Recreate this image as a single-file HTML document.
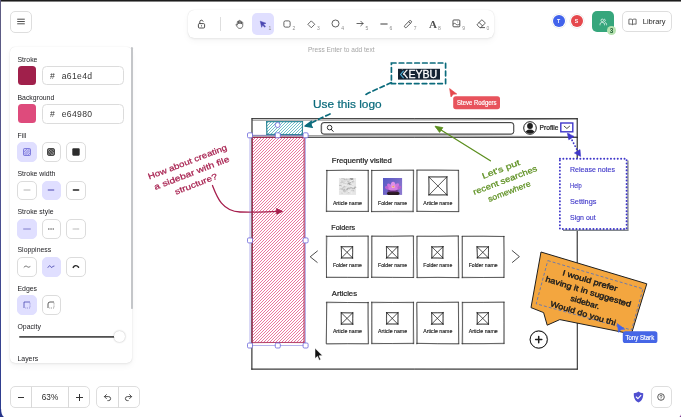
<!DOCTYPE html>
<html lang="en">
<head>
<meta charset="utf-8">
<title>Excalidraw whiteboard</title>
<style>
*{box-sizing:border-box;margin:0;padding:0}
html,body{width:681px;height:417px;overflow:hidden;background:#fff;font-family:"Liberation Sans",sans-serif;color:#1b1b1f}
#app{position:relative;width:681px;height:417px;overflow:hidden;background:#fff}
#cv{position:absolute;left:0;top:0;will-change:transform}
.abs{position:absolute}
.btn{position:absolute;background:#fff;border:0.6px solid #dedede;border-radius:5px;display:flex;align-items:center;justify-content:center}
.island{position:absolute;background:#fff;border-radius:6px;box-shadow:0 0 1px rgba(0,0,0,.17),0 1px 3px rgba(0,0,0,.07),0 3px 7px rgba(0,0,0,.04)}
.lbl{position:absolute;left:17.5px;font-size:6.9px;line-height:8px;color:#1b1b1f;white-space:nowrap}
.sq{position:absolute;width:19.8px;height:19.8px;border-radius:5px;border:0.6px solid #dcdcdc;background:#fff;display:flex;align-items:center;justify-content:center}
.sq.on{background:#e0dfff;border-color:#e0dfff}
.hex{position:absolute;left:41.6px;width:82.2px;height:19.4px;border:0.6px solid #dcdcdc;border-radius:4.5px;background:#fff;font-size:8.6px;line-height:19px;letter-spacing:.35px;color:#333;white-space:nowrap}
.hex b{font-weight:normal;position:absolute;left:7.3px}
.hex span{position:absolute;left:19.1px}
.sw{position:absolute;left:18px;width:18.4px;height:18.6px;border-radius:3.5px}
.tool{position:absolute;top:13.2px;width:21.4px;height:21.4px;border-radius:5px;display:flex;align-items:center;justify-content:center}
.tool.on{background:#e0dfff}
.key{position:absolute;font-size:5px;color:#8c8c8c;top:26.3px;line-height:5px}
svg{display:block;overflow:visible}
</style>
</head>
<body>
<div id="app">
<svg id="cv" width="681" height="417" viewBox="0 0 681 417"><defs>
<pattern id="hRed" width="2.28" height="10" patternUnits="userSpaceOnUse" patternTransform="rotate(40)"><rect width="2.28" height="10" fill="#fff"/><line x1="1.1" y1="0" x2="1.1" y2="10" stroke="#e64980" stroke-width="0.62"/></pattern>
<pattern id="hTeal" width="2.28" height="10" patternUnits="userSpaceOnUse" patternTransform="rotate(40)"><rect width="2.28" height="10" fill="#fff"/><line x1="1.1" y1="0" x2="1.1" y2="10" stroke="#4fb0b8" stroke-width="0.6"/></pattern>
<linearGradient id="flw" x1="0" y1="0" x2="1" y2="0.6"><stop offset="0" stop-color="#5558c6"/><stop offset="0.6" stop-color="#7568c8"/><stop offset="1" stop-color="#8a78cf"/></linearGradient>
</defs>
<path d="M252.09 118.54 Q414.49 118.59 577.22 118.72" stroke="#1e1e1e" stroke-width="0.65" fill="none" stroke-linecap="round" />
<path d="M251.72 118.76 Q414.33 118.8 576.94 118.55" stroke="#1e1e1e" stroke-width="0.65" fill="none" stroke-linecap="round" />
<path d="M576.97 118.63 Q577.15 244.2 577.28 369.47" stroke="#1e1e1e" stroke-width="0.65" fill="none" stroke-linecap="round" />
<path d="M577.49 118.53 Q577.25 243.94 577.42 369.07" stroke="#1e1e1e" stroke-width="0.65" fill="none" stroke-linecap="round" />
<path d="M577.09 369.39 Q414.39 368.97 251.81 369.25" stroke="#1e1e1e" stroke-width="0.65" fill="none" stroke-linecap="round" />
<path d="M577.23 368.94 Q414.68 369.12 251.74 369.02" stroke="#1e1e1e" stroke-width="0.65" fill="none" stroke-linecap="round" />
<path d="M251.89 369.25 Q252.11 243.96 251.97 118.68" stroke="#1e1e1e" stroke-width="0.65" fill="none" stroke-linecap="round" />
<path d="M251.85 369.24 Q252.18 244.12 252.02 119.03" stroke="#1e1e1e" stroke-width="0.65" fill="none" stroke-linecap="round" />
<path d="M252.24 137.11 Q414.71 137.19 577.16 137.43" stroke="#1e1e1e" stroke-width="0.65" fill="none" stroke-linecap="round" />
<path d="M251.77 137.38 Q414.43 137.29 577.33 137.34" stroke="#1e1e1e" stroke-width="0.65" fill="none" stroke-linecap="round" />
<path d="M252 120.4 L470 119.9 L577.2 119.1 M252 135.4 L470 135.9 L577.2 136.9" stroke="#444" stroke-width="0.5" fill="none"/>
<clipPath id="cT"><rect x="266.8" y="121.6" width="35.7" height="12.8"/></clipPath>
<g clip-path="url(#cT)" stroke="#3fa9b5" stroke-width="0.95" stroke-opacity="0.8" fill="none">
<path d="M255.6 134.4L268.4 121.6M258.6 134.4L271.4 121.6M261.6 134.4L274.4 121.6M264.6 134.4L277.4 121.6M267.6 134.4L280.4 121.6M270.6 134.4L283.4 121.6M273.6 134.4L286.4 121.6M276.6 134.4L289.4 121.6M279.6 134.4L292.4 121.6M282.6 134.4L295.4 121.6M285.6 134.4L298.4 121.6M288.6 134.4L301.4 121.6M291.6 134.4L304.4 121.6M294.6 134.4L307.4 121.6M297.6 134.4L310.4 121.6M300.6 134.4L313.4 121.6"/>
</g>
<path d="M266.9 121.65 Q284.84 121.51 302.54 121.58" stroke="#0b7285" stroke-width="0.65" fill="none" stroke-linecap="round" />
<path d="M266.79 121.68 Q284.82 121.82 302.28 121.7" stroke="#0b7285" stroke-width="0.65" fill="none" stroke-linecap="round" />
<path d="M302.66 121.49 Q302.57 128.25 302.44 134.48" stroke="#0b7285" stroke-width="0.65" fill="none" stroke-linecap="round" />
<path d="M302.33 121.41 Q302.26 127.98 302.28 134.53" stroke="#0b7285" stroke-width="0.65" fill="none" stroke-linecap="round" />
<path d="M302.45 134.59 Q284.46 134.27 266.59 134.37" stroke="#0b7285" stroke-width="0.65" fill="none" stroke-linecap="round" />
<path d="M302.66 134.58 Q284.67 134.59 266.69 134.36" stroke="#0b7285" stroke-width="0.65" fill="none" stroke-linecap="round" />
<path d="M267.03 134.23 Q266.73 128.19 266.64 121.47" stroke="#0b7285" stroke-width="0.65" fill="none" stroke-linecap="round" />
<path d="M266.84 134.28 Q266.67 127.99 266.55 121.56" stroke="#0b7285" stroke-width="0.65" fill="none" stroke-linecap="round" />
<clipPath id="cR"><rect x="252.3" y="137.2" width="52" height="205.4"/></clipPath>
<g clip-path="url(#cR)" stroke="#e64980" stroke-width="0.95" stroke-opacity="0.8" fill="none">
<path d="M47.4 342.6L252.8 137.2M50.4 342.6L255.8 137.2M53.4 342.6L258.8 137.2M56.4 342.6L261.8 137.2M59.4 342.6L264.8 137.2M62.4 342.6L267.8 137.2M65.4 342.6L270.8 137.2M68.4 342.6L273.8 137.2M71.4 342.6L276.8 137.2M74.4 342.6L279.8 137.2M77.4 342.6L282.8 137.2M80.4 342.6L285.8 137.2M83.4 342.6L288.8 137.2M86.4 342.6L291.8 137.2M89.4 342.6L294.8 137.2M92.4 342.6L297.8 137.2M95.4 342.6L300.8 137.2M98.4 342.6L303.8 137.2M101.4 342.6L306.8 137.2M104.4 342.6L309.8 137.2M107.4 342.6L312.8 137.2M110.4 342.6L315.8 137.2M113.4 342.6L318.8 137.2M116.4 342.6L321.8 137.2M119.4 342.6L324.8 137.2M122.4 342.6L327.8 137.2M125.4 342.6L330.8 137.2M128.4 342.6L333.8 137.2M131.4 342.6L336.8 137.2M134.4 342.6L339.8 137.2M137.4 342.6L342.8 137.2M140.4 342.6L345.8 137.2M143.4 342.6L348.8 137.2M146.4 342.6L351.8 137.2M149.4 342.6L354.8 137.2M152.4 342.6L357.8 137.2M155.4 342.6L360.8 137.2M158.4 342.6L363.8 137.2M161.4 342.6L366.8 137.2M164.4 342.6L369.8 137.2M167.4 342.6L372.8 137.2M170.4 342.6L375.8 137.2M173.4 342.6L378.8 137.2M176.4 342.6L381.8 137.2M179.4 342.6L384.8 137.2M182.4 342.6L387.8 137.2M185.4 342.6L390.8 137.2M188.4 342.6L393.8 137.2M191.4 342.6L396.8 137.2M194.4 342.6L399.8 137.2M197.4 342.6L402.8 137.2M200.4 342.6L405.8 137.2M203.4 342.6L408.8 137.2M206.4 342.6L411.8 137.2M209.4 342.6L414.8 137.2M212.4 342.6L417.8 137.2M215.4 342.6L420.8 137.2M218.4 342.6L423.8 137.2M221.4 342.6L426.8 137.2M224.4 342.6L429.8 137.2M227.4 342.6L432.8 137.2M230.4 342.6L435.8 137.2M233.4 342.6L438.8 137.2M236.4 342.6L441.8 137.2M239.4 342.6L444.8 137.2M242.4 342.6L447.8 137.2M245.4 342.6L450.8 137.2M248.4 342.6L453.8 137.2M251.4 342.6L456.8 137.2M254.4 342.6L459.8 137.2M257.4 342.6L462.8 137.2M260.4 342.6L465.8 137.2M263.4 342.6L468.8 137.2M266.4 342.6L471.8 137.2M269.4 342.6L474.8 137.2M272.4 342.6L477.8 137.2M275.4 342.6L480.8 137.2M278.4 342.6L483.8 137.2M281.4 342.6L486.8 137.2M284.4 342.6L489.8 137.2M287.4 342.6L492.8 137.2M290.4 342.6L495.8 137.2M293.4 342.6L498.8 137.2M296.4 342.6L501.8 137.2M299.4 342.6L504.8 137.2M302.4 342.6L507.8 137.2"/>
</g>
<path d="M252.5 137.38 Q278.24 137.33 304.31 137.35" stroke="#a61e4d" stroke-width="0.6" fill="none" stroke-linecap="round" />
<path d="M252.48 137.42 Q278.38 137.1 304.46 137.43" stroke="#a61e4d" stroke-width="0.6" fill="none" stroke-linecap="round" />
<path d="M304.13 137.36 Q304.25 239.86 304.11 342.31" stroke="#a61e4d" stroke-width="0.6" fill="none" stroke-linecap="round" />
<path d="M304.23 137.1 Q304.17 239.75 304.08 342.35" stroke="#a61e4d" stroke-width="0.6" fill="none" stroke-linecap="round" />
<path d="M304.09 342.66 Q278.12 342.44 252.35 342.35" stroke="#a61e4d" stroke-width="0.6" fill="none" stroke-linecap="round" />
<path d="M304.24 342.33 Q278.19 342.43 252.45 342.72" stroke="#a61e4d" stroke-width="0.6" fill="none" stroke-linecap="round" />
<path d="M252.12 342.32 Q252.29 239.89 252.23 137.2" stroke="#a61e4d" stroke-width="0.6" fill="none" stroke-linecap="round" />
<path d="M252.09 342.7 Q252.44 239.75 252.31 137.14" stroke="#a61e4d" stroke-width="0.6" fill="none" stroke-linecap="round" />
<rect x="321.2" y="122.5" width="192.6" height="11.7" rx="2.6" fill="none" stroke="#1e1e1e" stroke-width="0.8"/>
<rect x="321.7" y="122.9" width="191.8" height="11" rx="2.4" fill="none" stroke="#333" stroke-width="0.4"/>
<circle cx="329.6" cy="127.6" r="2.3" fill="none" stroke="#1e1e1e" stroke-width="0.9"/><path d="M331.3 129.4 L333.2 131.4" stroke="#1e1e1e" stroke-width="1" stroke-linecap="round"/>
<circle cx="530" cy="128" r="6.3" fill="#fff" stroke="#1e1e1e" stroke-width="1"/>
<clipPath id="avc"><circle cx="530" cy="128" r="5.8"/></clipPath>
<g clip-path="url(#avc)"><circle cx="530" cy="126" r="2.9" fill="#1e1e1e"/><ellipse cx="530" cy="134.6" rx="5.4" ry="5" fill="#1e1e1e"/></g>
<text x="539.6" y="130.2" font-family='"Liberation Sans", "DejaVu Sans", sans-serif' font-size="6.3" fill="#1e1e1e" text-anchor="start" font-weight="normal" textLength="18.8" lengthAdjust="spacingAndGlyphs"  stroke="#1e1e1e" stroke-width="0.22" stroke-linejoin="round">Profile</text>
<rect x="560.8" y="123" width="12" height="8.8" fill="#fff" stroke="#3f37c9" stroke-width="1.4"/>
<path d="M564.2 126.2 L566.9 128.5 L569.6 126.2" fill="none" stroke="#1e1e1e" stroke-width="0.8" stroke-linecap="round" stroke-linejoin="round"/>
<text x="331.8" y="163" font-family='"Liberation Sans", "DejaVu Sans", sans-serif' font-size="7.4" fill="#1e1e1e" text-anchor="start" font-weight="normal" textLength="60" lengthAdjust="spacingAndGlyphs"  stroke="#1e1e1e" stroke-width="0.22" stroke-linejoin="round">Frequently visited</text>
<path d="M326.62 170.58 Q347.43 169.82 368.49 170.36" stroke="#222" stroke-width="0.5" fill="none" stroke-linecap="round" />
<path d="M326.33 170.42 Q347.21 170.09 368.23 170.42" stroke="#222" stroke-width="0.5" fill="none" stroke-linecap="round" />
<path d="M368.45 170.59 Q368.06 190.58 368.48 211.64" stroke="#222" stroke-width="0.5" fill="none" stroke-linecap="round" />
<path d="M367.98 170.21 Q368.45 190.99 368.08 211.02" stroke="#222" stroke-width="0.5" fill="none" stroke-linecap="round" />
<path d="M368.01 211.55 Q347.02 211.22 326.97 211.36" stroke="#222" stroke-width="0.5" fill="none" stroke-linecap="round" />
<path d="M368.56 211.29 Q347.75 211.79 326.38 211.18" stroke="#222" stroke-width="0.5" fill="none" stroke-linecap="round" />
<path d="M326.7 211.72 Q326.36 190.56 326.87 170.18" stroke="#222" stroke-width="0.5" fill="none" stroke-linecap="round" />
<path d="M326.27 211.53 Q326.72 191.04 326.93 170.43" stroke="#222" stroke-width="0.5" fill="none" stroke-linecap="round" />
<text x="347.4" y="204.5" font-family='"Liberation Sans", "DejaVu Sans", sans-serif' font-size="5.2" fill="#1e1e1e" text-anchor="middle" font-weight="normal" textLength="29" lengthAdjust="spacingAndGlyphs"  stroke="#1e1e1e" stroke-width="0.15" stroke-linejoin="round">Article name</text>
<path d="M371.54 170.43 Q392.8 170.18 413.27 170.44" stroke="#222" stroke-width="0.5" fill="none" stroke-linecap="round" />
<path d="M371.72 170.56 Q392.98 170.12 413.58 169.94" stroke="#222" stroke-width="0.5" fill="none" stroke-linecap="round" />
<path d="M413.72 170.45 Q413.1 190.52 413.12 211.66" stroke="#222" stroke-width="0.5" fill="none" stroke-linecap="round" />
<path d="M413.28 170.24 Q413.78 190.93 413.1 211.01" stroke="#222" stroke-width="0.5" fill="none" stroke-linecap="round" />
<path d="M413.42 211.75 Q392.98 211.52 371.75 211.7" stroke="#222" stroke-width="0.5" fill="none" stroke-linecap="round" />
<path d="M413.2 211.23 Q392.86 211.17 371.59 211.47" stroke="#222" stroke-width="0.5" fill="none" stroke-linecap="round" />
<path d="M371.5 211.73 Q371.61 190.74 371.68 170.17" stroke="#222" stroke-width="0.5" fill="none" stroke-linecap="round" />
<path d="M371.74 211.73 Q371.87 191.12 371.8 170.23" stroke="#222" stroke-width="0.5" fill="none" stroke-linecap="round" />
<text x="392.6" y="204.5" font-family='"Liberation Sans", "DejaVu Sans", sans-serif' font-size="5.2" fill="#1e1e1e" text-anchor="middle" font-weight="normal" textLength="29" lengthAdjust="spacingAndGlyphs"  stroke="#1e1e1e" stroke-width="0.15" stroke-linejoin="round">Folder name</text>
<path d="M416.95 169.95 Q437.82 169.81 458.2 170.44" stroke="#222" stroke-width="0.5" fill="none" stroke-linecap="round" />
<path d="M417.18 170.25 Q437.54 170.18 458.46 170.21" stroke="#222" stroke-width="0.5" fill="none" stroke-linecap="round" />
<path d="M458.28 170.25 Q458.64 191.03 458.4 211.22" stroke="#222" stroke-width="0.5" fill="none" stroke-linecap="round" />
<path d="M458.65 170.41 Q458.82 190.81 458.93 211.35" stroke="#222" stroke-width="0.5" fill="none" stroke-linecap="round" />
<path d="M458.61 211.55 Q437.89 211.4 416.96 211.43" stroke="#222" stroke-width="0.5" fill="none" stroke-linecap="round" />
<path d="M458.76 211.7 Q437.78 211.75 417.35 211.21" stroke="#222" stroke-width="0.5" fill="none" stroke-linecap="round" />
<path d="M417.27 211.11 Q417.05 191.15 416.7 170.15" stroke="#222" stroke-width="0.5" fill="none" stroke-linecap="round" />
<path d="M416.66 211.54 Q416.66 190.59 417.23 170.52" stroke="#222" stroke-width="0.5" fill="none" stroke-linecap="round" />
<text x="437.8" y="204.5" font-family='"Liberation Sans", "DejaVu Sans", sans-serif' font-size="5.2" fill="#1e1e1e" text-anchor="middle" font-weight="normal" textLength="29" lengthAdjust="spacingAndGlyphs"  stroke="#1e1e1e" stroke-width="0.15" stroke-linejoin="round">Article name</text>
<clipPath id="cG"><rect x="338.8" y="177.9" width="17.4" height="17"/></clipPath><g clip-path="url(#cG)"><rect x="338.8" y="177.9" width="17.4" height="17" fill="#e6e6e6"/>
<path d="M341.32 189.37 q1 -1.15 2.01 -0.55" stroke="#8a8a8a" stroke-width="0.47" fill="none"/>
<path d="M346.02 189.85 q1.04 -0.82 2.08 -0.22" stroke="#b0b0b0" stroke-width="0.89" fill="none"/>
<path d="M351.49 180.72 q1.69 -0.93 3.39 -0.33" stroke="#f8f8f8" stroke-width="0.61" fill="none"/>
<path d="M344.35 179.64 q0.62 -0.72 1.24 -0.12" stroke="#9a9a9a" stroke-width="0.62" fill="none"/>
<path d="M339.27 183.37 q0.92 -0.15 1.85 0.45" stroke="#d0d0d0" stroke-width="0.46" fill="none"/>
<path d="M352.78 181.77 q0.69 -1.12 1.38 -0.52" stroke="#b0b0b0" stroke-width="0.85" fill="none"/>
<path d="M341.72 189.99 q1.06 -0.22 2.13 0.38" stroke="#a8a8a8" stroke-width="0.81" fill="none"/>
<path d="M342.88 180.53 q1.23 -0.52 2.46 0.08" stroke="#d0d0d0" stroke-width="0.44" fill="none"/>
<path d="M339.86 188.94 q1.58 -1.12 3.17 -0.52" stroke="#f8f8f8" stroke-width="0.41" fill="none"/>
<path d="M340.33 182.26 q1.54 -1.41 3.08 -0.81" stroke="#d0d0d0" stroke-width="0.83" fill="none"/>
<path d="M345.81 183.49 q1.06 -0.22 2.12 0.38" stroke="#d0d0d0" stroke-width="0.71" fill="none"/>
<path d="M339.65 189.27 q1.67 -1.13 3.33 -0.53" stroke="#b0b0b0" stroke-width="0.49" fill="none"/>
<path d="M352.98 188.01 q1.44 -1.09 2.87 -0.49" stroke="#d0d0d0" stroke-width="0.65" fill="none"/>
<path d="M341.67 183.61 q1.69 -1.45 3.39 -0.85" stroke="#b0b0b0" stroke-width="0.41" fill="none"/>
<path d="M346.58 193.46 q1.12 -0.19 2.24 0.41" stroke="#d0d0d0" stroke-width="0.45" fill="none"/>
<path d="M351.28 184.94 q1.2 -0.26 2.4 0.34" stroke="#f8f8f8" stroke-width="0.89" fill="none"/>
<path d="M343.62 181.56 q0.98 -0.33 1.95 0.27" stroke="#c4c4c4" stroke-width="0.75" fill="none"/>
<path d="M348.54 184.51 q1.68 -0.33 3.36 0.27" stroke="#9a9a9a" stroke-width="0.41" fill="none"/>
<path d="M348.38 191.93 q0.78 -1.38 1.56 -0.78" stroke="#f8f8f8" stroke-width="0.82" fill="none"/>
<path d="M352.06 188.66 q1.26 -0.53 2.52 0.07" stroke="#9a9a9a" stroke-width="0.42" fill="none"/>
<path d="M341.78 182.4 q0.89 -0.15 1.78 0.45" stroke="#b0b0b0" stroke-width="0.89" fill="none"/>
<path d="M347.21 182.01 q0.84 -1.24 1.68 -0.64" stroke="#9a9a9a" stroke-width="0.57" fill="none"/>
<path d="M340.26 182.55 q0.82 -0.79 1.64 -0.19" stroke="#8a8a8a" stroke-width="0.4" fill="none"/>
<path d="M342.96 179.6 q1.25 -0.95 2.49 -0.35" stroke="#f8f8f8" stroke-width="0.55" fill="none"/>
<path d="M348.45 179.52 q1.54 -1.28 3.08 -0.68" stroke="#d0d0d0" stroke-width="0.85" fill="none"/>
<path d="M350.76 187.51 q0.96 -0.12 1.92 0.48" stroke="#a8a8a8" stroke-width="0.47" fill="none"/>
<path d="M349.86 188.23 q1.51 -0.5 3.01 0.1" stroke="#b0b0b0" stroke-width="0.66" fill="none"/>
<path d="M345.44 189.14 q0.75 -0.77 1.51 -0.17" stroke="#d0d0d0" stroke-width="0.65" fill="none"/>
<path d="M351.52 190.75 q1.36 -0.38 2.71 0.22" stroke="#a8a8a8" stroke-width="0.76" fill="none"/>
<path d="M353.34 188.23 q0.63 -1.31 1.27 -0.71" stroke="#b0b0b0" stroke-width="0.58" fill="none"/>
<path d="M340.57 191.24 q0.66 -1.47 1.31 -0.87" stroke="#d0d0d0" stroke-width="0.67" fill="none"/>
<path d="M342.67 182.32 q1.48 -0.45 2.95 0.15" stroke="#f8f8f8" stroke-width="0.65" fill="none"/>
<path d="M347.03 188.49 q1.42 -0.84 2.84 -0.24" stroke="#b0b0b0" stroke-width="0.8" fill="none"/>
<path d="M351.69 181.86 q0.83 -0.46 1.65 0.14" stroke="#a8a8a8" stroke-width="0.89" fill="none"/>
<path d="M346.41 184.17 q1.6 -1.1 3.2 -0.5" stroke="#f8f8f8" stroke-width="0.42" fill="none"/>
<path d="M348.49 181.29 q0.76 -1.14 1.52 -0.54" stroke="#d0d0d0" stroke-width="0.77" fill="none"/>
<path d="M343.57 187.06 q1.13 -0.82 2.26 -0.22" stroke="#b0b0b0" stroke-width="0.89" fill="none"/>
<path d="M340.49 181.6 q0.92 -0.78 1.84 -0.18" stroke="#f8f8f8" stroke-width="0.63" fill="none"/>
<path d="M346 180.05 q0.82 -0.13 1.64 0.47" stroke="#d0d0d0" stroke-width="0.87" fill="none"/>
<path d="M339.26 185.36 q1.16 -0.11 2.31 0.49" stroke="#a8a8a8" stroke-width="0.9" fill="none"/>
<path d="M344.8 192.5 q0.68 -1.37 1.36 -0.77" stroke="#c4c4c4" stroke-width="0.77" fill="none"/>
<path d="M342.93 183.81 q1.5 -0.79 3 -0.19" stroke="#d0d0d0" stroke-width="0.84" fill="none"/>
<path d="M349.55 181.81 q1.03 -1.28 2.07 -0.68" stroke="#f8f8f8" stroke-width="0.87" fill="none"/>
<path d="M349.22 184.52 q0.75 -1.02 1.51 -0.42" stroke="#8a8a8a" stroke-width="0.56" fill="none"/>
<path d="M351.6 178.23 q0.97 -0.94 1.94 -0.34" stroke="#a8a8a8" stroke-width="0.87" fill="none"/>
<path d="M341.94 178.38 q0.92 -0.98 1.84 -0.38" stroke="#8a8a8a" stroke-width="0.6" fill="none"/>
<path d="M353.98 187.39 q1.62 -0.44 3.24 0.16" stroke="#9a9a9a" stroke-width="0.83" fill="none"/>
<path d="M343.21 179.01 q0.91 -0.19 1.83 0.41" stroke="#8a8a8a" stroke-width="0.52" fill="none"/>
<path d="M342.99 186.17 q1.45 -0.4 2.9 0.2" stroke="#c4c4c4" stroke-width="0.61" fill="none"/>
<path d="M339.44 190.08 q1.6 -0.18 3.21 0.42" stroke="#f8f8f8" stroke-width="0.67" fill="none"/>
<path d="M349.79 178.97 q1.05 -0.64 2.1 -0.04" stroke="#8a8a8a" stroke-width="0.47" fill="none"/>
<path d="M352.04 185.77 q0.74 -0.84 1.48 -0.24" stroke="#d0d0d0" stroke-width="0.57" fill="none"/>
<path d="M343.47 189.73 q0.89 -0.58 1.77 0.02" stroke="#8a8a8a" stroke-width="0.55" fill="none"/>
<path d="M347.36 184.35 q1.31 -1.39 2.62 -0.79" stroke="#c4c4c4" stroke-width="0.65" fill="none"/>
<path d="M351.18 186.79 q1.6 -0.1 3.19 0.5" stroke="#f8f8f8" stroke-width="0.62" fill="none"/>
<path d="M341.09 181.2 q0.79 -0.72 1.58 -0.12" stroke="#b0b0b0" stroke-width="0.56" fill="none"/>
<path d="M344.52 190.83 q1.58 -0.45 3.15 0.15" stroke="#c4c4c4" stroke-width="0.61" fill="none"/>
<path d="M345.21 186.38 q0.9 -0.45 1.79 0.15" stroke="#f8f8f8" stroke-width="0.65" fill="none"/>
<path d="M347.61 183.82 q1.15 -0.62 2.31 -0.02" stroke="#8a8a8a" stroke-width="0.83" fill="none"/>
<path d="M342.24 182.43 q1.02 -0.6 2.05 0" stroke="#c4c4c4" stroke-width="0.62" fill="none"/>
<path d="M343.68 190.9 q0.74 -0.9 1.48 -0.3" stroke="#b0b0b0" stroke-width="0.78" fill="none"/>
<path d="M351.06 193.31 q0.6 -0.95 1.2 -0.35" stroke="#f8f8f8" stroke-width="0.86" fill="none"/>
<path d="M351.38 191.55 q0.87 -1.35 1.75 -0.75" stroke="#f8f8f8" stroke-width="0.48" fill="none"/>
<path d="M346.84 188.84 q1.39 -0.59 2.79 0.01" stroke="#a8a8a8" stroke-width="0.78" fill="none"/>
<path d="M345.86 186.8 q0.6 -1.32 1.2 -0.72" stroke="#b0b0b0" stroke-width="0.68" fill="none"/>
<path d="M339.56 189.35 q1.29 -0.76 2.58 -0.16" stroke="#c4c4c4" stroke-width="0.62" fill="none"/>
<path d="M350.46 179.75 q1.18 -0.68 2.35 -0.08" stroke="#9a9a9a" stroke-width="0.59" fill="none"/>
<path d="M342.35 187.58 q1.19 -0.11 2.38 0.49" stroke="#b0b0b0" stroke-width="0.54" fill="none"/>
<path d="M343.75 191.29 q1.12 -1.17 2.25 -0.57" stroke="#c4c4c4" stroke-width="0.52" fill="none"/>
<path d="M353.41 189.19 q0.66 -1.23 1.32 -0.63" stroke="#9a9a9a" stroke-width="0.84" fill="none"/>
<path d="M348.71 179.47 q1.33 -0.2 2.67 0.4" stroke="#c4c4c4" stroke-width="0.51" fill="none"/>
<path d="M339.51 183.47 q1 -0.95 2 -0.35" stroke="#f8f8f8" stroke-width="0.4" fill="none"/>
<path d="M343.38 191.38 q0.83 -0.14 1.65 0.46" stroke="#b0b0b0" stroke-width="0.56" fill="none"/>
<path d="M351.3 181.8 q0.89 -0.25 1.78 0.35" stroke="#c4c4c4" stroke-width="0.45" fill="none"/>
<path d="M348.35 187.72 q1.13 -0.23 2.27 0.37" stroke="#c4c4c4" stroke-width="0.43" fill="none"/>
<path d="M347.92 192.58 q0.83 -0.14 1.67 0.46" stroke="#b0b0b0" stroke-width="0.47" fill="none"/>
<path d="M339.78 179.14 q1.09 -0.5 2.19 0.1" stroke="#f8f8f8" stroke-width="0.56" fill="none"/>
<path d="M340.7 179.44 q0.96 -1.24 1.92 -0.64" stroke="#c4c4c4" stroke-width="0.87" fill="none"/>
<path d="M350.19 178.7 q1.4 -0.33 2.8 0.27" stroke="#8a8a8a" stroke-width="0.89" fill="none"/>
<path d="M345.64 179.9 q0.91 -1.01 1.82 -0.41" stroke="#b0b0b0" stroke-width="0.88" fill="none"/>
<path d="M340.86 193.24 q1.02 -0.42 2.04 0.18" stroke="#c4c4c4" stroke-width="0.55" fill="none"/>
<path d="M351.06 179.57 q1.12 -0.98 2.24 -0.38" stroke="#8a8a8a" stroke-width="0.86" fill="none"/>
<path d="M341.9 183.88 q0.63 -0.92 1.27 -0.32" stroke="#f8f8f8" stroke-width="0.81" fill="none"/>
<path d="M350.5 178.83 q1.11 -0.38 2.22 0.22" stroke="#b0b0b0" stroke-width="0.43" fill="none"/>
<path d="M341.92 179.18 q0.97 -1.12 1.95 -0.52" stroke="#d0d0d0" stroke-width="0.88" fill="none"/>
<path d="M348.25 182.29 q1.36 -0.21 2.72 0.39" stroke="#8a8a8a" stroke-width="0.55" fill="none"/>
<path d="M349.82 187.49 q1.3 -0.18 2.59 0.42" stroke="#a8a8a8" stroke-width="0.41" fill="none"/>
<path d="M342.51 185.61 q1.65 -0.96 3.3 -0.36" stroke="#f8f8f8" stroke-width="0.53" fill="none"/>
<path d="M345.45 185.9 q0.8 -0.38 1.6 0.22" stroke="#f8f8f8" stroke-width="0.77" fill="none"/>
<path d="M351.34 190.26 q0.86 -0.29 1.72 0.31" stroke="#d0d0d0" stroke-width="0.63" fill="none"/>
</g>
<clipPath id="cF"><rect x="383" y="177.9" width="19.3" height="17"/></clipPath>
<g clip-path="url(#cF)"><rect x="383" y="177.9" width="19.3" height="17" fill="url(#flw)"/>
<ellipse cx="393.2" cy="193.4" rx="6.4" ry="2.5" fill="#2a1a22"/>
<ellipse cx="393" cy="191" rx="5.8" ry="1.3" fill="#6a2f7a" opacity="0.8"/><g transform="translate(0 0.9)">
<ellipse cx="388.6" cy="187.2" rx="3.8" ry="1.7" transform="rotate(18 388.6 187.2)" fill="#b95fd0"/>
<ellipse cx="397.6" cy="187" rx="3.8" ry="1.7" transform="rotate(-18 397.6 187)" fill="#b95fd0"/>
<ellipse cx="390" cy="185.6" rx="3.6" ry="1.9" transform="rotate(48 390 185.6)" fill="#cf74dc"/>
<ellipse cx="396.2" cy="185.4" rx="3.6" ry="1.9" transform="rotate(-48 396.2 185.4)" fill="#cf74dc"/>
<ellipse cx="393.1" cy="184.6" rx="2.3" ry="3.7" transform="rotate(0 393.1 184.6)" fill="#e08fe6"/>
<ellipse cx="393.1" cy="187.6" rx="4.6" ry="2.1" transform="rotate(0 393.1 187.6)" fill="#d57fe0"/>
<ellipse cx="393.2" cy="186" rx="1.7" ry="1.2" fill="#f3b2c8"/><ellipse cx="393.3" cy="185.6" rx="1" ry="0.7" fill="#f2a35a"/></g></g>
<path d="M429.01 176.95 Q438.14 177.05 446.83 176.95" stroke="#1e1e1e" stroke-width="0.55" fill="none" stroke-linecap="round" />
<path d="M429.02 176.83 Q438.07 176.99 446.96 176.8" stroke="#1e1e1e" stroke-width="0.55" fill="none" stroke-linecap="round" />
<path d="M446.85 176.96 Q446.79 186.06 447.24 195.24" stroke="#1e1e1e" stroke-width="0.55" fill="none" stroke-linecap="round" />
<path d="M446.98 177.2 Q446.84 185.82 446.87 195.02" stroke="#1e1e1e" stroke-width="0.55" fill="none" stroke-linecap="round" />
<path d="M447.14 194.9 Q438.14 195.13 428.89 194.88" stroke="#1e1e1e" stroke-width="0.55" fill="none" stroke-linecap="round" />
<path d="M446.97 194.84 Q437.88 194.88 428.87 194.89" stroke="#1e1e1e" stroke-width="0.55" fill="none" stroke-linecap="round" />
<path d="M428.78 194.88 Q429.2 185.84 428.87 177.01" stroke="#1e1e1e" stroke-width="0.55" fill="none" stroke-linecap="round" />
<path d="M428.98 194.77 Q429.07 185.8 428.75 177.19" stroke="#1e1e1e" stroke-width="0.55" fill="none" stroke-linecap="round" /><path d="M428.95 177.15 Q437.89 185.98 446.89 194.82" stroke="#1e1e1e" stroke-width="0.45" fill="none" stroke-linecap="round" />
<path d="M428.88 176.83 Q438.04 186.13 447.01 194.87" stroke="#1e1e1e" stroke-width="0.45" fill="none" stroke-linecap="round" /><path d="M447.07 176.8 Q438.04 186.11 429.05 195.08" stroke="#1e1e1e" stroke-width="0.45" fill="none" stroke-linecap="round" />
<path d="M446.94 176.82 Q437.94 185.81 429.2 194.82" stroke="#1e1e1e" stroke-width="0.45" fill="none" stroke-linecap="round" />
<text x="331.3" y="229.6" font-family='"Liberation Sans", "DejaVu Sans", sans-serif' font-size="7.4" fill="#1e1e1e" text-anchor="start" font-weight="normal" textLength="23.8" lengthAdjust="spacingAndGlyphs"  stroke="#1e1e1e" stroke-width="0.22" stroke-linejoin="round">Folders</text>
<path d="M326.85 236.46 Q347.59 236.53 368.13 236.1" stroke="#222" stroke-width="0.5" fill="none" stroke-linecap="round" />
<path d="M326.23 236.2 Q347.5 235.86 368.19 236.13" stroke="#222" stroke-width="0.5" fill="none" stroke-linecap="round" />
<path d="M367.92 236.23 Q368.44 256.93 368.32 277.32" stroke="#222" stroke-width="0.5" fill="none" stroke-linecap="round" />
<path d="M368.33 236.13 Q368.02 257.19 367.84 277.6" stroke="#222" stroke-width="0.5" fill="none" stroke-linecap="round" />
<path d="M367.81 277.61 Q347.71 277.33 326.84 277.52" stroke="#222" stroke-width="0.5" fill="none" stroke-linecap="round" />
<path d="M368.55 277.35 Q347.31 277.32 326.33 277.09" stroke="#222" stroke-width="0.5" fill="none" stroke-linecap="round" />
<path d="M326.49 277.62 Q326.27 256.86 326.3 235.84" stroke="#222" stroke-width="0.5" fill="none" stroke-linecap="round" />
<path d="M326.52 277.46 Q326.31 257.05 326.94 236.39" stroke="#222" stroke-width="0.5" fill="none" stroke-linecap="round" />
<text x="347.4" y="266.8" font-family='"Liberation Sans", "DejaVu Sans", sans-serif' font-size="5.2" fill="#1e1e1e" text-anchor="middle" font-weight="normal" textLength="29" lengthAdjust="spacingAndGlyphs"  stroke="#1e1e1e" stroke-width="0.15" stroke-linejoin="round">Folder name</text>
<path d="M341.23 246.64 Q346.84 246.72 352.38 246.74" stroke="#1e1e1e" stroke-width="0.55" fill="none" stroke-linecap="round" />
<path d="M341.55 246.7 Q347.13 246.95 352.77 246.57" stroke="#1e1e1e" stroke-width="0.55" fill="none" stroke-linecap="round" />
<path d="M352.65 246.87 Q352.81 252.31 352.39 258.11" stroke="#1e1e1e" stroke-width="0.55" fill="none" stroke-linecap="round" />
<path d="M352.67 246.98 Q352.69 252.6 352.66 258.06" stroke="#1e1e1e" stroke-width="0.55" fill="none" stroke-linecap="round" />
<path d="M352.63 257.77 Q346.85 257.99 341.62 257.83" stroke="#1e1e1e" stroke-width="0.55" fill="none" stroke-linecap="round" />
<path d="M352.84 258.16 Q346.93 257.82 341.25 258.19" stroke="#1e1e1e" stroke-width="0.55" fill="none" stroke-linecap="round" />
<path d="M341.48 257.91 Q341.57 252.49 341.34 246.78" stroke="#1e1e1e" stroke-width="0.55" fill="none" stroke-linecap="round" />
<path d="M341.47 257.9 Q341.57 252.54 341.27 246.74" stroke="#1e1e1e" stroke-width="0.55" fill="none" stroke-linecap="round" /><path d="M341.27 246.6 Q346.95 252.4 352.79 257.99" stroke="#1e1e1e" stroke-width="0.45" fill="none" stroke-linecap="round" />
<path d="M341.53 246.93 Q346.98 252.45 352.72 257.96" stroke="#1e1e1e" stroke-width="0.45" fill="none" stroke-linecap="round" /><path d="M352.55 246.92 Q346.83 252.34 341.4 258.06" stroke="#1e1e1e" stroke-width="0.45" fill="none" stroke-linecap="round" />
<path d="M352.77 246.73 Q346.82 252.25 341.49 257.83" stroke="#1e1e1e" stroke-width="0.45" fill="none" stroke-linecap="round" />
<path d="M371.92 236.43 Q392.8 236.52 413.02 235.85" stroke="#222" stroke-width="0.5" fill="none" stroke-linecap="round" />
<path d="M371.49 235.91 Q392.69 236.35 413.71 236.03" stroke="#222" stroke-width="0.5" fill="none" stroke-linecap="round" />
<path d="M413.55 236.38 Q413.65 257.04 413.18 277.67" stroke="#222" stroke-width="0.5" fill="none" stroke-linecap="round" />
<path d="M413.26 236.29 Q413.49 256.6 413.72 277.37" stroke="#222" stroke-width="0.5" fill="none" stroke-linecap="round" />
<path d="M413.38 277.47 Q392.4 277.77 371.89 277.19" stroke="#222" stroke-width="0.5" fill="none" stroke-linecap="round" />
<path d="M413.32 277.51 Q392.5 277.16 371.62 277.26" stroke="#222" stroke-width="0.5" fill="none" stroke-linecap="round" />
<path d="M371.61 277.61 Q371.7 257.03 371.44 236.49" stroke="#222" stroke-width="0.5" fill="none" stroke-linecap="round" />
<path d="M371.82 277.55 Q372.17 256.76 372.12 236" stroke="#222" stroke-width="0.5" fill="none" stroke-linecap="round" />
<text x="392.6" y="266.8" font-family='"Liberation Sans", "DejaVu Sans", sans-serif' font-size="5.2" fill="#1e1e1e" text-anchor="middle" font-weight="normal" textLength="29" lengthAdjust="spacingAndGlyphs"  stroke="#1e1e1e" stroke-width="0.15" stroke-linejoin="round">Folder name</text>
<path d="M386.72 246.74 Q392.22 246.98 397.74 246.73" stroke="#1e1e1e" stroke-width="0.55" fill="none" stroke-linecap="round" />
<path d="M386.39 246.67 Q392.02 246.72 397.86 247.03" stroke="#1e1e1e" stroke-width="0.55" fill="none" stroke-linecap="round" />
<path d="M397.71 247.03 Q397.7 252.41 397.99 258.21" stroke="#1e1e1e" stroke-width="0.55" fill="none" stroke-linecap="round" />
<path d="M397.92 246.66 Q398 252.52 397.7 258.06" stroke="#1e1e1e" stroke-width="0.55" fill="none" stroke-linecap="round" />
<path d="M397.57 257.99 Q392.16 257.93 386.66 257.77" stroke="#1e1e1e" stroke-width="0.55" fill="none" stroke-linecap="round" />
<path d="M397.7 258.01 Q391.98 258.03 386.62 257.96" stroke="#1e1e1e" stroke-width="0.55" fill="none" stroke-linecap="round" />
<path d="M386.53 258.16 Q386.5 252.22 386.43 246.56" stroke="#1e1e1e" stroke-width="0.55" fill="none" stroke-linecap="round" />
<path d="M386.58 257.78 Q386.75 252.5 386.42 246.88" stroke="#1e1e1e" stroke-width="0.55" fill="none" stroke-linecap="round" /><path d="M386.79 246.62 Q392.11 252.52 397.93 258.16" stroke="#1e1e1e" stroke-width="0.45" fill="none" stroke-linecap="round" />
<path d="M386.64 246.81 Q392.24 252.43 397.8 257.87" stroke="#1e1e1e" stroke-width="0.45" fill="none" stroke-linecap="round" /><path d="M397.61 246.67 Q392 252.22 386.46 258.16" stroke="#1e1e1e" stroke-width="0.45" fill="none" stroke-linecap="round" />
<path d="M397.86 246.68 Q392.04 252.45 386.57 258.01" stroke="#1e1e1e" stroke-width="0.45" fill="none" stroke-linecap="round" />
<path d="M416.93 236.29 Q437.91 236.32 458.61 235.85" stroke="#222" stroke-width="0.5" fill="none" stroke-linecap="round" />
<path d="M417.18 236.18 Q437.9 236.6 458.63 236.1" stroke="#222" stroke-width="0.5" fill="none" stroke-linecap="round" />
<path d="M458.26 236.32 Q458.55 257.13 458.34 277.8" stroke="#222" stroke-width="0.5" fill="none" stroke-linecap="round" />
<path d="M458.3 236.51 Q458.41 256.92 458.94 277.75" stroke="#222" stroke-width="0.5" fill="none" stroke-linecap="round" />
<path d="M458.71 277.54 Q437.61 277.04 417.15 277.73" stroke="#222" stroke-width="0.5" fill="none" stroke-linecap="round" />
<path d="M458.94 277.72 Q438.18 277.24 416.67 277.41" stroke="#222" stroke-width="0.5" fill="none" stroke-linecap="round" />
<path d="M417.27 277.16 Q416.74 257.12 416.73 236.53" stroke="#222" stroke-width="0.5" fill="none" stroke-linecap="round" />
<path d="M417.08 277.3 Q416.75 256.71 417.28 236.54" stroke="#222" stroke-width="0.5" fill="none" stroke-linecap="round" />
<text x="437.8" y="266.8" font-family='"Liberation Sans", "DejaVu Sans", sans-serif' font-size="5.2" fill="#1e1e1e" text-anchor="middle" font-weight="normal" textLength="29" lengthAdjust="spacingAndGlyphs"  stroke="#1e1e1e" stroke-width="0.15" stroke-linejoin="round">Folder name</text>
<path d="M431.82 246.79 Q437.64 246.97 443.02 246.55" stroke="#1e1e1e" stroke-width="0.55" fill="none" stroke-linecap="round" />
<path d="M431.67 246.99 Q437.16 247.03 443.14 246.75" stroke="#1e1e1e" stroke-width="0.55" fill="none" stroke-linecap="round" />
<path d="M442.84 246.57 Q443.04 252.43 442.81 258.06" stroke="#1e1e1e" stroke-width="0.55" fill="none" stroke-linecap="round" />
<path d="M443.1 246.57 Q442.83 252.64 442.82 258.07" stroke="#1e1e1e" stroke-width="0.55" fill="none" stroke-linecap="round" />
<path d="M442.77 258.18 Q437.17 257.78 431.93 257.85" stroke="#1e1e1e" stroke-width="0.55" fill="none" stroke-linecap="round" />
<path d="M443.08 258.19 Q437.63 258.02 431.93 258.11" stroke="#1e1e1e" stroke-width="0.55" fill="none" stroke-linecap="round" />
<path d="M431.65 257.77 Q431.74 252.27 432.02 247.01" stroke="#1e1e1e" stroke-width="0.55" fill="none" stroke-linecap="round" />
<path d="M431.93 258.07 Q431.93 252.19 431.79 246.62" stroke="#1e1e1e" stroke-width="0.55" fill="none" stroke-linecap="round" /><path d="M431.72 246.73 Q437.52 252.46 442.9 257.94" stroke="#1e1e1e" stroke-width="0.45" fill="none" stroke-linecap="round" />
<path d="M431.9 246.96 Q437.57 252.22 443.11 258.04" stroke="#1e1e1e" stroke-width="0.45" fill="none" stroke-linecap="round" /><path d="M443.1 246.92 Q437.39 252.32 431.61 258.01" stroke="#1e1e1e" stroke-width="0.45" fill="none" stroke-linecap="round" />
<path d="M442.82 246.83 Q437.24 252.39 431.89 258.13" stroke="#1e1e1e" stroke-width="0.45" fill="none" stroke-linecap="round" />
<path d="M462.35 236.22 Q483.26 236.03 503.83 236.4" stroke="#222" stroke-width="0.5" fill="none" stroke-linecap="round" />
<path d="M462.08 236.36 Q482.84 236.08 504.26 236.57" stroke="#222" stroke-width="0.5" fill="none" stroke-linecap="round" />
<path d="M504.01 236.26 Q504.07 257.17 503.73 277.65" stroke="#222" stroke-width="0.5" fill="none" stroke-linecap="round" />
<path d="M503.73 236.55 Q504.35 256.59 504.21 277.39" stroke="#222" stroke-width="0.5" fill="none" stroke-linecap="round" />
<path d="M503.68 277.26 Q483.59 277.45 462.08 277.74" stroke="#222" stroke-width="0.5" fill="none" stroke-linecap="round" />
<path d="M503.94 277.52 Q483.51 277.6 462.3 277.24" stroke="#222" stroke-width="0.5" fill="none" stroke-linecap="round" />
<path d="M462.14 277.79 Q462.34 256.84 462.5 236.56" stroke="#222" stroke-width="0.5" fill="none" stroke-linecap="round" />
<path d="M462.55 277.48 Q462.1 256.88 462.03 236.27" stroke="#222" stroke-width="0.5" fill="none" stroke-linecap="round" />
<text x="483.2" y="266.8" font-family='"Liberation Sans", "DejaVu Sans", sans-serif' font-size="5.2" fill="#1e1e1e" text-anchor="middle" font-weight="normal" textLength="29" lengthAdjust="spacingAndGlyphs"  stroke="#1e1e1e" stroke-width="0.15" stroke-linejoin="round">Folder name</text>
<path d="M477.18 246.83 Q482.81 246.98 488.31 246.78" stroke="#1e1e1e" stroke-width="0.55" fill="none" stroke-linecap="round" />
<path d="M477.07 246.72 Q482.89 246.68 488.47 246.9" stroke="#1e1e1e" stroke-width="0.55" fill="none" stroke-linecap="round" />
<path d="M488.53 246.96 Q488.4 252.28 488.46 258.11" stroke="#1e1e1e" stroke-width="0.55" fill="none" stroke-linecap="round" />
<path d="M488.45 246.72 Q488.64 252.51 488.27 258.23" stroke="#1e1e1e" stroke-width="0.55" fill="none" stroke-linecap="round" />
<path d="M488.65 257.83 Q482.68 258.23 477.28 257.85" stroke="#1e1e1e" stroke-width="0.55" fill="none" stroke-linecap="round" />
<path d="M488.3 257.9 Q482.63 257.82 477.09 257.8" stroke="#1e1e1e" stroke-width="0.55" fill="none" stroke-linecap="round" />
<path d="M477.39 257.98 Q477.41 252.29 476.96 246.98" stroke="#1e1e1e" stroke-width="0.55" fill="none" stroke-linecap="round" />
<path d="M477.44 257.9 Q477.17 252.26 476.96 246.68" stroke="#1e1e1e" stroke-width="0.55" fill="none" stroke-linecap="round" /><path d="M477.1 246.94 Q482.9 252.2 488.48 258.03" stroke="#1e1e1e" stroke-width="0.45" fill="none" stroke-linecap="round" />
<path d="M477.27 246.86 Q482.86 252.54 488.55 258.06" stroke="#1e1e1e" stroke-width="0.45" fill="none" stroke-linecap="round" /><path d="M488.27 246.65 Q482.83 252.29 477.17 257.9" stroke="#1e1e1e" stroke-width="0.45" fill="none" stroke-linecap="round" />
<path d="M488.3 246.76 Q482.88 252.56 477.29 257.86" stroke="#1e1e1e" stroke-width="0.45" fill="none" stroke-linecap="round" />
<text x="331.8" y="296" font-family='"Liberation Sans", "DejaVu Sans", sans-serif' font-size="7.4" fill="#1e1e1e" text-anchor="start" font-weight="normal" textLength="25.2" lengthAdjust="spacingAndGlyphs"  stroke="#1e1e1e" stroke-width="0.22" stroke-linejoin="round">Articles</text>
<path d="M326.22 302.69 Q347.68 302.39 368.21 302.53" stroke="#222" stroke-width="0.5" fill="none" stroke-linecap="round" />
<path d="M326.46 302.01 Q347.7 302.72 368.47 302.73" stroke="#222" stroke-width="0.5" fill="none" stroke-linecap="round" />
<path d="M367.97 302.57 Q367.89 322.8 368.56 343.36" stroke="#222" stroke-width="0.5" fill="none" stroke-linecap="round" />
<path d="M368.17 302.16 Q368.08 323.28 368.18 343.21" stroke="#222" stroke-width="0.5" fill="none" stroke-linecap="round" />
<path d="M368.07 343.79 Q347.63 343.5 326.57 343.99" stroke="#222" stroke-width="0.5" fill="none" stroke-linecap="round" />
<path d="M368.55 343.78 Q347.15 343.61 326.69 343.71" stroke="#222" stroke-width="0.5" fill="none" stroke-linecap="round" />
<path d="M326.25 343.26 Q326.4 322.91 326.93 302.5" stroke="#222" stroke-width="0.5" fill="none" stroke-linecap="round" />
<path d="M326.29 343.44 Q326.74 323.06 326.52 302.76" stroke="#222" stroke-width="0.5" fill="none" stroke-linecap="round" />
<text x="347.4" y="333" font-family='"Liberation Sans", "DejaVu Sans", sans-serif' font-size="5.2" fill="#1e1e1e" text-anchor="middle" font-weight="normal" textLength="29" lengthAdjust="spacingAndGlyphs"  stroke="#1e1e1e" stroke-width="0.15" stroke-linejoin="round">Article name</text>
<path d="M341.53 312.68 Q347.24 312.95 352.53 312.91" stroke="#1e1e1e" stroke-width="0.55" fill="none" stroke-linecap="round" />
<path d="M341.15 312.77 Q346.78 312.85 352.81 312.86" stroke="#1e1e1e" stroke-width="0.55" fill="none" stroke-linecap="round" />
<path d="M352.87 312.85 Q352.52 318.48 352.66 324.35" stroke="#1e1e1e" stroke-width="0.55" fill="none" stroke-linecap="round" />
<path d="M352.84 312.68 Q352.83 318.47 352.84 323.97" stroke="#1e1e1e" stroke-width="0.55" fill="none" stroke-linecap="round" />
<path d="M352.94 324.19 Q347.1 324.19 341.29 324.25" stroke="#1e1e1e" stroke-width="0.55" fill="none" stroke-linecap="round" />
<path d="M352.78 324.01 Q347.15 324.03 341.29 324.16" stroke="#1e1e1e" stroke-width="0.55" fill="none" stroke-linecap="round" />
<path d="M341.13 324 Q341.09 318.6 341.24 312.49" stroke="#1e1e1e" stroke-width="0.55" fill="none" stroke-linecap="round" />
<path d="M341.52 324.12 Q341.33 318.31 341.22 312.74" stroke="#1e1e1e" stroke-width="0.55" fill="none" stroke-linecap="round" /><path d="M341.13 312.62 Q347.06 318.28 352.74 324.13" stroke="#1e1e1e" stroke-width="0.45" fill="none" stroke-linecap="round" />
<path d="M341.28 312.81 Q347.14 318.27 352.58 324.06" stroke="#1e1e1e" stroke-width="0.45" fill="none" stroke-linecap="round" /><path d="M352.78 312.89 Q347.01 318.44 341.14 324.26" stroke="#1e1e1e" stroke-width="0.45" fill="none" stroke-linecap="round" />
<path d="M352.62 312.7 Q347.02 318.45 341.19 323.93" stroke="#1e1e1e" stroke-width="0.45" fill="none" stroke-linecap="round" />
<path d="M371.49 302.09 Q392.87 302.54 413.34 302.66" stroke="#222" stroke-width="0.5" fill="none" stroke-linecap="round" />
<path d="M371.79 302.72 Q392.58 302.45 413.56 302.2" stroke="#222" stroke-width="0.5" fill="none" stroke-linecap="round" />
<path d="M413.59 302.13 Q413.13 323.08 413.26 343.76" stroke="#222" stroke-width="0.5" fill="none" stroke-linecap="round" />
<path d="M413.37 302.34 Q413.4 322.84 413.8 343.74" stroke="#222" stroke-width="0.5" fill="none" stroke-linecap="round" />
<path d="M413.52 343.22 Q392.34 343.49 371.44 343.79" stroke="#222" stroke-width="0.5" fill="none" stroke-linecap="round" />
<path d="M413.08 343.59 Q393 343.85 372.01 343.32" stroke="#222" stroke-width="0.5" fill="none" stroke-linecap="round" />
<path d="M371.5 343.28 Q371.57 322.93 371.93 302.27" stroke="#222" stroke-width="0.5" fill="none" stroke-linecap="round" />
<path d="M372.13 343.43 Q372.02 323.04 371.67 302.2" stroke="#222" stroke-width="0.5" fill="none" stroke-linecap="round" />
<text x="392.6" y="333" font-family='"Liberation Sans", "DejaVu Sans", sans-serif' font-size="5.2" fill="#1e1e1e" text-anchor="middle" font-weight="normal" textLength="29" lengthAdjust="spacingAndGlyphs"  stroke="#1e1e1e" stroke-width="0.15" stroke-linejoin="round">Article name</text>
<path d="M386.43 312.7 Q391.98 312.59 397.82 312.94" stroke="#1e1e1e" stroke-width="0.55" fill="none" stroke-linecap="round" />
<path d="M386.35 312.7 Q392.39 312.62 397.71 312.55" stroke="#1e1e1e" stroke-width="0.55" fill="none" stroke-linecap="round" />
<path d="M398.14 312.49 Q398.01 318.21 398.15 324.05" stroke="#1e1e1e" stroke-width="0.55" fill="none" stroke-linecap="round" />
<path d="M397.94 312.65 Q397.93 318.35 397.7 323.87" stroke="#1e1e1e" stroke-width="0.55" fill="none" stroke-linecap="round" />
<path d="M398.03 323.88 Q392.36 324.09 386.5 324.12" stroke="#1e1e1e" stroke-width="0.55" fill="none" stroke-linecap="round" />
<path d="M397.99 324.19 Q392.14 323.92 386.69 323.89" stroke="#1e1e1e" stroke-width="0.55" fill="none" stroke-linecap="round" />
<path d="M386.56 323.94 Q386.27 318.47 386.58 312.88" stroke="#1e1e1e" stroke-width="0.55" fill="none" stroke-linecap="round" />
<path d="M386.72 323.86 Q386.46 318.2 386.69 312.52" stroke="#1e1e1e" stroke-width="0.55" fill="none" stroke-linecap="round" /><path d="M386.64 312.57 Q392.12 318.48 397.71 323.91" stroke="#1e1e1e" stroke-width="0.45" fill="none" stroke-linecap="round" />
<path d="M386.67 312.7 Q392.23 318.43 397.91 324.23" stroke="#1e1e1e" stroke-width="0.45" fill="none" stroke-linecap="round" /><path d="M397.98 312.66 Q392.31 318.37 386.33 324.17" stroke="#1e1e1e" stroke-width="0.45" fill="none" stroke-linecap="round" />
<path d="M397.96 312.56 Q392.24 318.6 386.61 324.12" stroke="#1e1e1e" stroke-width="0.45" fill="none" stroke-linecap="round" />
<path d="M417.32 302.5 Q437.47 302.38 458.54 302.01" stroke="#222" stroke-width="0.5" fill="none" stroke-linecap="round" />
<path d="M417.29 302.17 Q437.94 302.79 458.3 302.38" stroke="#222" stroke-width="0.5" fill="none" stroke-linecap="round" />
<path d="M458.56 302.6 Q458.42 323.06 458.94 343.49" stroke="#222" stroke-width="0.5" fill="none" stroke-linecap="round" />
<path d="M458.32 302.61 Q458.8 323.16 458.43 343.65" stroke="#222" stroke-width="0.5" fill="none" stroke-linecap="round" />
<path d="M458.91 343.93 Q437.8 343.74 416.64 343.23" stroke="#222" stroke-width="0.5" fill="none" stroke-linecap="round" />
<path d="M458.75 343.69 Q437.45 343.91 416.91 343.45" stroke="#222" stroke-width="0.5" fill="none" stroke-linecap="round" />
<path d="M417.27 343.69 Q417.08 323.37 416.85 302.76" stroke="#222" stroke-width="0.5" fill="none" stroke-linecap="round" />
<path d="M416.73 343.97 Q417.18 322.98 416.69 302.76" stroke="#222" stroke-width="0.5" fill="none" stroke-linecap="round" />
<text x="437.8" y="333" font-family='"Liberation Sans", "DejaVu Sans", sans-serif' font-size="5.2" fill="#1e1e1e" text-anchor="middle" font-weight="normal" textLength="29" lengthAdjust="spacingAndGlyphs"  stroke="#1e1e1e" stroke-width="0.15" stroke-linejoin="round">Article name</text>
<path d="M431.69 312.84 Q437.23 312.85 443.08 312.59" stroke="#1e1e1e" stroke-width="0.55" fill="none" stroke-linecap="round" />
<path d="M431.59 312.76 Q437.53 312.62 443.18 312.85" stroke="#1e1e1e" stroke-width="0.55" fill="none" stroke-linecap="round" />
<path d="M443.21 312.46 Q443.15 318.58 442.93 324.27" stroke="#1e1e1e" stroke-width="0.55" fill="none" stroke-linecap="round" />
<path d="M442.97 312.64 Q443.14 318.64 443.04 324.24" stroke="#1e1e1e" stroke-width="0.55" fill="none" stroke-linecap="round" />
<path d="M443.19 324.01 Q437.27 324.08 431.58 323.93" stroke="#1e1e1e" stroke-width="0.55" fill="none" stroke-linecap="round" />
<path d="M443.24 323.99 Q437.61 324.23 431.52 324.3" stroke="#1e1e1e" stroke-width="0.55" fill="none" stroke-linecap="round" />
<path d="M431.94 324.25 Q431.95 318.22 431.72 312.84" stroke="#1e1e1e" stroke-width="0.55" fill="none" stroke-linecap="round" />
<path d="M431.72 324.09 Q431.7 318.42 431.64 312.84" stroke="#1e1e1e" stroke-width="0.55" fill="none" stroke-linecap="round" /><path d="M431.62 312.52 Q437.49 318.59 443.06 324.18" stroke="#1e1e1e" stroke-width="0.45" fill="none" stroke-linecap="round" />
<path d="M431.5 312.65 Q437.57 318.43 443.12 324.11" stroke="#1e1e1e" stroke-width="0.45" fill="none" stroke-linecap="round" /><path d="M443.06 312.71 Q437.34 318.23 431.6 324.23" stroke="#1e1e1e" stroke-width="0.45" fill="none" stroke-linecap="round" />
<path d="M442.98 312.59 Q437.33 318.4 431.54 324.22" stroke="#1e1e1e" stroke-width="0.45" fill="none" stroke-linecap="round" />
<path d="M462.29 302.62 Q483.03 302.46 504.29 302.2" stroke="#222" stroke-width="0.5" fill="none" stroke-linecap="round" />
<path d="M462.69 302.3 Q483.54 302.39 503.97 302.07" stroke="#222" stroke-width="0.5" fill="none" stroke-linecap="round" />
<path d="M503.82 302.49 Q503.85 322.62 503.68 343.36" stroke="#222" stroke-width="0.5" fill="none" stroke-linecap="round" />
<path d="M504.07 302.17 Q504.3 323.05 504.34 343.42" stroke="#222" stroke-width="0.5" fill="none" stroke-linecap="round" />
<path d="M504.07 343.69 Q482.88 343.56 462.1 343.87" stroke="#222" stroke-width="0.5" fill="none" stroke-linecap="round" />
<path d="M503.9 343.22 Q483.07 344 462.03 343.5" stroke="#222" stroke-width="0.5" fill="none" stroke-linecap="round" />
<path d="M462.68 343.92 Q462.56 322.99 462.69 302.51" stroke="#222" stroke-width="0.5" fill="none" stroke-linecap="round" />
<path d="M462.07 343.45 Q462.74 323.17 462.19 302.07" stroke="#222" stroke-width="0.5" fill="none" stroke-linecap="round" />
<text x="483.2" y="333" font-family='"Liberation Sans", "DejaVu Sans", sans-serif' font-size="5.2" fill="#1e1e1e" text-anchor="middle" font-weight="normal" textLength="29" lengthAdjust="spacingAndGlyphs"  stroke="#1e1e1e" stroke-width="0.15" stroke-linejoin="round">Article name</text>
<path d="M476.94 312.87 Q483.01 312.7 488.44 312.57" stroke="#1e1e1e" stroke-width="0.55" fill="none" stroke-linecap="round" />
<path d="M477.32 312.92 Q482.91 312.54 488.28 312.73" stroke="#1e1e1e" stroke-width="0.55" fill="none" stroke-linecap="round" />
<path d="M488.38 312.71 Q488.26 318.61 488.62 324.23" stroke="#1e1e1e" stroke-width="0.55" fill="none" stroke-linecap="round" />
<path d="M488.41 312.45 Q488.49 318.2 488.35 324.22" stroke="#1e1e1e" stroke-width="0.55" fill="none" stroke-linecap="round" />
<path d="M488.58 324.09 Q482.84 324.07 477.04 324.05" stroke="#1e1e1e" stroke-width="0.55" fill="none" stroke-linecap="round" />
<path d="M488.47 324.25 Q482.74 324.04 477.31 324.3" stroke="#1e1e1e" stroke-width="0.55" fill="none" stroke-linecap="round" />
<path d="M477.25 323.93 Q477.08 318.61 477.27 312.49" stroke="#1e1e1e" stroke-width="0.55" fill="none" stroke-linecap="round" />
<path d="M477.22 324.24 Q477.16 318.34 477.33 312.91" stroke="#1e1e1e" stroke-width="0.55" fill="none" stroke-linecap="round" /><path d="M476.93 312.89 Q482.75 318.21 488.43 323.99" stroke="#1e1e1e" stroke-width="0.45" fill="none" stroke-linecap="round" />
<path d="M477.03 312.79 Q482.65 318.35 488.37 324.08" stroke="#1e1e1e" stroke-width="0.45" fill="none" stroke-linecap="round" /><path d="M488.36 312.67 Q482.96 318.38 477 323.91" stroke="#1e1e1e" stroke-width="0.45" fill="none" stroke-linecap="round" />
<path d="M488.62 312.6 Q482.83 318.32 476.94 324.08" stroke="#1e1e1e" stroke-width="0.45" fill="none" stroke-linecap="round" />
<path d="M317.4 251 L310.2 256.8 L317.2 262.4" fill="none" stroke="#1e1e1e" stroke-width="0.8" stroke-linecap="round"/>
<path d="M512.2 250.6 L519.4 256.6 L512.4 262.4" fill="none" stroke="#1e1e1e" stroke-width="0.8" stroke-linecap="round"/>
<circle cx="538.7" cy="339.6" r="8.6" fill="#fff" stroke="#1e1e1e" stroke-width="1"/><circle cx="538.9" cy="339.4" r="8.8" fill="none" stroke="#1e1e1e" stroke-width="0.4"/>
<path d="M535.6 339.6 H541.8 M538.7 336.5 V342.7" stroke="#1e1e1e" stroke-width="1.5" stroke-linecap="round"/>
<g transform="translate(1.5 7.5) rotate(-21 190 165)">
<text x="190" y="156.5" font-family='"Liberation Sans", "DejaVu Sans", sans-serif' font-size="8.2" fill="#a61e4d" text-anchor="middle" font-weight="normal" textLength="84" lengthAdjust="spacingAndGlyphs"  stroke="#a61e4d" stroke-width="0.22" stroke-linejoin="round">How about creating</text>
<text x="190" y="168.3" font-family='"Liberation Sans", "DejaVu Sans", sans-serif' font-size="8.2" fill="#a61e4d" text-anchor="middle" font-weight="normal" textLength="80" lengthAdjust="spacingAndGlyphs"  stroke="#a61e4d" stroke-width="0.22" stroke-linejoin="round">a sidebar with file</text>
<text x="190" y="180.1" font-family='"Liberation Sans", "DejaVu Sans", sans-serif' font-size="8.2" fill="#a61e4d" text-anchor="middle" font-weight="normal" textLength="45" lengthAdjust="spacingAndGlyphs"  stroke="#a61e4d" stroke-width="0.22" stroke-linejoin="round">structure?</text>
</g>
<path d="M212.5 185.5 C217 197 222 211 240 212 C255 212.6 268 211.5 281.5 211.4" fill="none" stroke="#a61e4d" stroke-width="1.3" stroke-linecap="round"/>
<path d="M282.5 211.4 L276.4 208.6 L276.8 214.2 Z" fill="#a61e4d" stroke="#a61e4d" stroke-width="0.8" stroke-linejoin="round"/>
<rect x="391.4" y="63" width="54.2" height="20.6" fill="none" stroke="#0b6b7c" stroke-width="1.7" stroke-dasharray="4.6 3.2" stroke-linecap="round"/>
<rect x="398" y="68.8" width="42" height="10.8" fill="#152433"/>
<text x="408.4" y="78.3" font-family='"Liberation Sans", sans-serif' font-size="10.6" fill="#fff" text-anchor="start" font-weight="normal" textLength="28.8" lengthAdjust="spacingAndGlyphs"  stroke="#fff" stroke-width="0.3" stroke-linejoin="round">EYBU</text>
<text x="400.9" y="78.3" font-family='"Liberation Sans", sans-serif' font-size="10.6" fill="#fff" text-anchor="start" font-weight="normal"  stroke="#fff" stroke-width="0.3" stroke-linejoin="round">K</text>
<rect x="399.6" y="70" width="3.4" height="9" fill="#152433"/><path d="M403.6 70.9 L400.6 74.5 L403.6 78.1" fill="none" stroke="#4fb3d9" stroke-width="1.1"/>
<path d="M391.4 82.6 C382 87 373 90.5 365 95" fill="none" stroke="#0b6b7c" stroke-width="1.7" stroke-dasharray="4.6 3.2" stroke-linecap="round"/>
<path d="M330 114 C322 117.5 314 121.5 306.5 125.4" fill="none" stroke="#0b6b7c" stroke-width="1.7" stroke-dasharray="4.6 3.2" stroke-linecap="round"/>
<path d="M305 126 L311.4 121.2 M305 126 L312.4 127.2" fill="none" stroke="#0b6b7c" stroke-width="1.4" stroke-linecap="round"/>
<path d="M305 126 L311.4 121.4 L312.2 127 Z" fill="#0b6b7c"/>
<text x="313" y="108" font-family='"Liberation Sans", "DejaVu Sans", sans-serif' font-size="10.8" fill="#0b6b7c" text-anchor="start" font-weight="normal" textLength="68.6" lengthAdjust="spacingAndGlyphs"  stroke="#0b6b7c" stroke-width="0.22" stroke-linejoin="round">Use this logo</text>
<path d="M490.4 160.8 L436.2 127" fill="none" stroke="#5c8f1f" stroke-width="1.3" stroke-linecap="round"/>
<path d="M435 126.2 L442.8 127.6 L439.6 132.4 Z" fill="#5c8f1f" stroke="#5c8f1f" stroke-width="0.8" stroke-linejoin="round"/>
<g transform="rotate(-21 505 180)">
<text x="505" y="171.2" font-family='"Liberation Sans", "DejaVu Sans", sans-serif' font-size="8.2" fill="#5c8f1f" text-anchor="middle" font-weight="normal" textLength="40" lengthAdjust="spacingAndGlyphs"  stroke="#5c8f1f" stroke-width="0.22" stroke-linejoin="round">Let&#39;s put</text>
<text x="505" y="183" font-family='"Liberation Sans", "DejaVu Sans", sans-serif' font-size="8.2" fill="#5c8f1f" text-anchor="middle" font-weight="normal" textLength="68" lengthAdjust="spacingAndGlyphs"  stroke="#5c8f1f" stroke-width="0.22" stroke-linejoin="round">recent searches</text>
<text x="505" y="194.8" font-family='"Liberation Sans", "DejaVu Sans", sans-serif' font-size="8.2" fill="#5c8f1f" text-anchor="middle" font-weight="normal" textLength="45" lengthAdjust="spacingAndGlyphs"  stroke="#5c8f1f" stroke-width="0.22" stroke-linejoin="round">somewhere</text>
</g>
<rect x="559.9" y="158.8" width="68.1" height="71.5" fill="#fff"/>
<path d="M627.9 160.5 V230.2 H563" stroke="#82878c" stroke-width="1.4" fill="none"/>
<rect x="559.9" y="158.8" width="66.7" height="70.2" fill="none" stroke="#3f37c9" stroke-width="1.9" stroke-dasharray="0.1 3.3" stroke-linecap="round"/>
<path d="M569 134.4 L579.6 154.6" stroke="#3f37c9" stroke-width="1.8" stroke-dasharray="0.1 3.2" stroke-linecap="round" fill="none"/>
<path d="M567.4 133.2 L574 136.4 L568.8 139.8 Z" fill="#3f37c9" stroke="#3f37c9" stroke-width="0.6" stroke-linejoin="round"/>
<path d="M580.6 156.4 L574.4 153 L580 149.6 Z" fill="#3f37c9" stroke="#3f37c9" stroke-width="0.6" stroke-linejoin="round"/>
<text x="570" y="171.8" font-family='"Liberation Sans", "DejaVu Sans", sans-serif' font-size="6.8" fill="#3f37c9" text-anchor="start" font-weight="normal" textLength="45" lengthAdjust="spacingAndGlyphs"  stroke="#3f37c9" stroke-width="0.12" stroke-linejoin="round">Release notes</text>
<text x="570" y="188" font-family='"Liberation Sans", "DejaVu Sans", sans-serif' font-size="6.8" fill="#3f37c9" text-anchor="start" font-weight="normal" textLength="11.8" lengthAdjust="spacingAndGlyphs"  stroke="#3f37c9" stroke-width="0.12" stroke-linejoin="round">Help</text>
<text x="570" y="204.2" font-family='"Liberation Sans", "DejaVu Sans", sans-serif' font-size="6.8" fill="#3f37c9" text-anchor="start" font-weight="normal" textLength="26.4" lengthAdjust="spacingAndGlyphs"  stroke="#3f37c9" stroke-width="0.12" stroke-linejoin="round">Settings</text>
<text x="570" y="220.4" font-family='"Liberation Sans", "DejaVu Sans", sans-serif' font-size="6.8" fill="#3f37c9" text-anchor="start" font-weight="normal" textLength="25.6" lengthAdjust="spacingAndGlyphs"  stroke="#3f37c9" stroke-width="0.12" stroke-linejoin="round">Sign out</text>
<path d="M541 252 L646.8 283.8 L631.4 334 L559.8 319.6 L547.2 325.2 L543.6 312.6 L531 307.6 Z" fill="#f3a63f" stroke="#1e1e1e" stroke-width="1" stroke-linejoin="round"/>
<path d="M547.8 260.6 L643 288.8 L631.6 330 L536.2 303.8 Z" fill="none" stroke="#4c6ec4" stroke-width="0.8" stroke-dasharray="3 2"/>
<g transform="translate(-3.4 3.4) rotate(16.8 590 294)">
<text x="588.5" y="279.6" font-family='"Liberation Sans", "DejaVu Sans", sans-serif' font-size="7.8" fill="#1e1e1e" text-anchor="middle" font-weight="normal" textLength="57" lengthAdjust="spacingAndGlyphs"  stroke="#1e1e1e" stroke-width="0.4" stroke-linejoin="round">I would prefer</text>
<text x="590" y="290.7" font-family='"Liberation Sans", "DejaVu Sans", sans-serif' font-size="7.8" fill="#1e1e1e" text-anchor="middle" font-weight="normal" textLength="89" lengthAdjust="spacingAndGlyphs"  stroke="#1e1e1e" stroke-width="0.4" stroke-linejoin="round">having it in suggested</text>
<text x="590" y="301.8" font-family='"Liberation Sans", "DejaVu Sans", sans-serif' font-size="7.8" fill="#1e1e1e" text-anchor="middle" font-weight="normal" textLength="30" lengthAdjust="spacingAndGlyphs"  stroke="#1e1e1e" stroke-width="0.4" stroke-linejoin="round">sidebar.</text>
<text x="591.2" y="312.9" font-family='"Liberation Sans", "DejaVu Sans", sans-serif' font-size="7.8" fill="#1e1e1e" text-anchor="middle" font-weight="normal" textLength="68" lengthAdjust="spacingAndGlyphs"  stroke="#1e1e1e" stroke-width="0.4" stroke-linejoin="round">Would do you thi</text>
</g>
<rect x="250" y="135.3" width="55.6" height="210.2" fill="none" stroke="#6965db" stroke-width="0.8" stroke-opacity="0.6"/>
<rect x="247.5" y="132.8" width="5" height="5" rx="1.2" fill="#fff" stroke="#6965db" stroke-width="0.8"/>
<rect x="275.3" y="132.8" width="5" height="5" rx="1.2" fill="#fff" stroke="#6965db" stroke-width="0.8"/>
<rect x="303.1" y="132.8" width="5" height="5" rx="1.2" fill="#fff" stroke="#6965db" stroke-width="0.8"/>
<rect x="247.5" y="237.9" width="5" height="5" rx="1.2" fill="#fff" stroke="#6965db" stroke-width="0.8"/>
<rect x="303.1" y="237.9" width="5" height="5" rx="1.2" fill="#fff" stroke="#6965db" stroke-width="0.8"/>
<rect x="247.5" y="343" width="5" height="5" rx="1.2" fill="#fff" stroke="#6965db" stroke-width="0.8"/>
<rect x="275.3" y="343" width="5" height="5" rx="1.2" fill="#fff" stroke="#6965db" stroke-width="0.8"/>
<rect x="303.1" y="343" width="5" height="5" rx="1.2" fill="#fff" stroke="#6965db" stroke-width="0.8"/>
<circle cx="277.6" cy="125" r="2.5" fill="#fff" stroke="#6965db" stroke-width="0.8"/>
<path d="M449.6 88.6 L451 97 L453.2 94.2 L456.8 94 Z" fill="#e5484d" stroke="#e5484d" stroke-width="0.6" stroke-linejoin="round"/>
<rect x="453.2" y="96.2" width="46.8" height="13" rx="2.6" fill="#e8535c"/>
<text x="476.8" y="105.3" font-family='"Liberation Sans", sans-serif' font-size="7" fill="#fff" text-anchor="middle" font-weight="normal" textLength="39.4" lengthAdjust="spacingAndGlyphs"  stroke="#fff" stroke-width="0.2" stroke-linejoin="round">Steve Rodgers</text>
<path d="M617.2 323.6 L618.6 332.4 L621 329.4 L624.8 329.2 Z" fill="#4263eb" stroke="#4263eb" stroke-width="0.6" stroke-linejoin="round"/>
<rect x="622.8" y="331.2" width="34.6" height="11.8" rx="2.6" fill="#4666e6"/>
<text x="639.8" y="339.7" font-family='"Liberation Sans", sans-serif' font-size="7" fill="#fff" text-anchor="middle" font-weight="normal" textLength="28.8" lengthAdjust="spacingAndGlyphs"  stroke="#fff" stroke-width="0.2" stroke-linejoin="round">Tony Stark</text>
<path d="M315 348.2 L315 358.6 L317.5 356.3 L319.2 360.2 L320.7 359.5 L319 355.8 L322.4 355.6 Z" fill="#111" stroke="#fff" stroke-width="0.5"/>
</svg>

<!-- window edges -->
<div class="abs" style="left:0;top:0;width:681px;height:1.9px;background:linear-gradient(#1c1c1c 0,#1c1c1c 55%,rgba(28,28,28,0) 100%)"></div>
<div class="abs" style="left:0;top:0;width:1.15px;height:417px;background:linear-gradient(#5f5d82 0,#4f5290 45%,#2b3b8f 100%)"></div>
<svg class="abs" style="left:0;top:409px" width="8" height="8" viewBox="0 0 8 8"><path d="M0 0 H1.1 C1.2 4 2 6.6 4 8 H0 Z" fill="#26348a"/></svg>
<svg class="abs" style="left:675px;top:411px" width="6" height="6" viewBox="0 0 6 6"><path d="M6 3.2 C5.7 4.6 5.2 5.5 4.4 6 H6 Z" fill="#7a2f8f"/></svg>

<!-- menu button -->
<div class="btn" style="left:10px;top:10.8px;width:21.8px;height:21.8px">
<svg width="8" height="7" viewBox="0 0 8 7"><path d="M.6 1.2H7.4M.6 3.5H7.4M.6 5.8H7.4" stroke="#3c3c3c" stroke-width=".9" stroke-linecap="round"/></svg>
</div>

<!-- top toolbar -->
<div class="island" style="left:187.6px;top:10px;width:306.2px;height:27.6px;border-radius:6px"></div>
<div class="abs" style="left:219.8px;top:17px;width:.7px;height:13.8px;background:#dedede"></div>
<div class="tool" style="left:190.8px"><svg width="9" height="10" viewBox="0 0 9 10"><rect x="1.4" y="4.6" width="6.2" height="4.4" rx="1" fill="none" stroke="#3c3c3c" stroke-width=".9"/><path d="M2.8 4.6V2.8a1.7 1.7 0 0 1 3.3-.5" fill="none" stroke="#3c3c3c" stroke-width=".9" stroke-linecap="round"/><circle cx="4.5" cy="6.8" r=".6" fill="#3c3c3c"/></svg></div>
<div class="tool" style="left:228.6px"><svg width="9" height="10" viewBox="0 0 10 11"><path d="M2.600 6.400V3.200a.75.75 0 0 1 1.500 0V5M4.100 4.800V2.200a.75.75 0 0 1 1.500 0V5M5.600 4.800V2.800a.75.75 0 0 1 1.500 0V5.200M7.100 5V4a.75.75 0 0 1 1.500 0V7.200c0 2-1.300 3.200-3.200 3.200-1.500 0-2.300-.7-3-1.800L1.200 6.700c-.4-.7.500-1.300 1-.7l.4.500" fill="none" stroke="#3c3c3c" stroke-width=".8" stroke-linejoin="round" stroke-linecap="round"/></svg></div>
<div class="tool on" style="left:252.4px"><svg width="8" height="8" viewBox="0 0 9 9" style="margin:0 0 0 -.4px"><path d="M1.400 1.300 7.800 3.700 5 4.700 7.300 7.200 6.300 8.100 4.100 5.600 3 8.200Z" fill="#4a47b1" stroke="#4a47b1" stroke-width=".6" stroke-linejoin="round"/></svg></div>
<div class="tool" style="left:276.6px"><svg width="8" height="8" viewBox="0 0 9 9"><rect x="1" y="1" width="7" height="7" rx="1.7" fill="none" stroke="#3c3c3c" stroke-width=".9"/></svg></div>
<div class="tool" style="left:300.8px"><svg width="8.6" height="8.6" viewBox="0 0 10 10"><path d="M5 1 9 5 5 9 1 5Z" fill="none" stroke="#3c3c3c" stroke-width=".9" stroke-linejoin="round"/></svg></div>
<div class="tool" style="left:325px"><svg width="9" height="9" viewBox="0 0 10 10"><circle cx="5" cy="5" r="3.900" fill="none" stroke="#3c3c3c" stroke-width=".9"/></svg></div>
<div class="tool" style="left:349.2px"><svg width="8" height="7" viewBox="0 0 9 8"><path d="M1 4H8M5.400 1.400 8 4 5.400 6.600" fill="none" stroke="#3c3c3c" stroke-width=".9" stroke-linecap="round" stroke-linejoin="round"/></svg></div>
<div class="tool" style="left:373.2px"><svg width="8" height="4" viewBox="0 0 8 4"><path d="M.8 2H7.200" stroke="#3c3c3c" stroke-width="1" stroke-linecap="round"/></svg></div>
<div class="tool" style="left:397.4px"><svg width="10" height="10" viewBox="0 0 10 10"><path d="M1.700 6.600 6.500 1.800a1.250 1.250 0 0 1 1.750 1.750L3.450 8.350a1.250 1.250 0 0 1 -1.750 -1.750Z M5.700 2.600 7.400 4.300" fill="none" stroke="#3c3c3c" stroke-width=".85" stroke-linejoin="round"/></svg></div>
<div class="tool" style="left:422.400px;top:13.600px;font-weight:bold;font-size:11px;color:#505050;font-family:'Liberation Serif',serif">A</div>
<div class="tool" style="left:445.800px"><svg width="8.8" height="8.8" viewBox="0 0 9 9" style="margin-top:-1.2px"><rect x="1" y="1" width="7" height="7" rx=".9" fill="none" stroke="#3c3c3c" stroke-width=".9"/><path d="M1 5.400C2.200 4.200 3 4.200 4 5.200S6.400 6.400 8 5" fill="none" stroke="#3c3c3c" stroke-width=".8"/><circle cx="5.800" cy="3" r=".5" fill="#3c3c3c"/></svg></div>
<div class="tool" style="left:470.400px"><svg width="10" height="10" viewBox="0 0 10 10"><path d="M3.800 8.600 1.400 6.200a.8.800 0 0 1 0-1.100L5.400 1.200a.8.800 0 0 1 1.100 0L8.800 3.500a.8.800 0 0 1 0 1.100L4.800 8.600ZM3.200 3.600 6.400 6.800M4.800 8.600H8.600" fill="none" stroke="#3c3c3c" stroke-width=".85" stroke-linejoin="round" stroke-linecap="round"/></svg></div>
<span class="key" style="left:268.600px">1</span><span class="key" style="left:292.600px">2</span><span class="key" style="left:317px">3</span><span class="key" style="left:341.200px">4</span><span class="key" style="left:365.400px">5</span><span class="key" style="left:389.600px">6</span><span class="key" style="left:413.800px">7</span><span class="key" style="left:438px">8</span><span class="key" style="left:462.200px">9</span><span class="key" style="left:486.400px">0</span>
<div class="abs" style="left:307.800px;top:45.300px;font-size:7.5px;line-height:9px;color:#a6a6a6;white-space:nowrap;transform-origin:0 0;transform:scaleX(.872)">Press Enter to add text</div>

<!-- collaborators / library -->
<div class="abs" style="left:551.600px;top:14.200px;width:14px;height:14px;border-radius:50%;background:#fff;box-shadow:0 0 0 .5px #e3e3e3"></div>
<div class="abs" style="left:552.600px;top:15.200px;width:12px;height:12px;border-radius:50%;background:#4263eb;color:#fff;font-size:5.200px;font-weight:bold;line-height:12px;text-align:center">T</div>
<div class="abs" style="left:569.600px;top:14.200px;width:14px;height:14px;border-radius:50%;background:#fff;box-shadow:0 0 0 .5px #e3e3e3"></div>
<div class="abs" style="left:570.600px;top:15.200px;width:12px;height:12px;border-radius:50%;background:#e5484d;color:#fff;font-size:5.200px;font-weight:bold;line-height:12px;text-align:center">S</div>
<div class="abs" style="left:592.400px;top:10.600px;width:21.800px;height:21.800px;border-radius:5px;background:#36a67c;display:flex;align-items:center;justify-content:center">
<svg width="8.6" height="7.8" viewBox="0 0 10 9"><circle cx="3.800" cy="2.700" r="1.500" fill="none" stroke="#fff" stroke-width=".8"/><path d="M1.200 8V7.200A2 2 0 0 1 3.200 5.200H4.400A2 2 0 0 1 6.400 7.200V8M6.400 1.300A1.500 1.500 0 0 1 6.400 4.100M8.800 8V7.200A2 2 0 0 0 7.400 5.300" fill="none" stroke="#fff" stroke-width=".8" stroke-linecap="round"/></svg></div>
<div class="abs" style="left:606.900px;top:25.800px;width:9.200px;height:9.200px;border-radius:50%;background:#b6e3b0;color:#26653a;font-size:6.400px;font-weight:bold;line-height:9.400px;text-align:center">3</div>
<div class="btn" style="left:621.800px;top:10.500px;width:50.600px;height:21.800px"></div>
<svg class="abs" style="left:628.400px;top:17.900px" width="9" height="7.6" viewBox="0 0 10 9" preserveAspectRatio="none"><path d="M5 2C4 1.200 2.400 1.100 1 1.500V7.400C2.400 7 4 7.100 5 7.900 6 7.100 7.600 7 9 7.400V1.500C7.600 1.100 6 1.200 5 2ZM5 2V7.900" fill="none" stroke="#3c3c3c" stroke-width=".85" stroke-linejoin="round"/></svg>
<div class="abs" style="left:642.800px;top:16.800px;font-size:7.5px;line-height:10px;color:#2a2a2a;white-space:nowrap;letter-spacing:-.02px">Library</div>

<!-- properties panel -->
<div class="island" style="left:9.600px;top:46.800px;width:122.800px;height:316.400px;border-radius:5px"></div>
<div class="abs" style="left:130.600px;top:47.200px;width:2.200px;height:261.500px;background:#c4c6c9;border-radius:1px 2px 1px 1px"></div>
<div class="lbl" style="top:56.3px">Stroke</div>
<div class="sw" style="top:66.100px;background:#a0204b"></div>
<div class="hex" style="top:66px"><b>#</b><span>a61e4d</span></div>
<div class="lbl" style="top:94.0px">Background</div>
<div class="sw" style="top:104.300px;background:#de4b7c"></div>
<div class="hex" style="top:104.200px"><b>#</b><span>e64980</span></div>

<div class="lbl" style="top:131.9px">Fill</div>
<div class="sq on" style="left:17.300px;top:142.400px"><svg width="8" height="8" viewBox="0 0 8 8"><rect x=".5" y=".5" width="7" height="7" rx="1" fill="#c9c7f7" stroke="#5b57d1" stroke-width=".7"/><path d="M1 4 4 1M1 6.500 6.500 1M2.500 7 7 2.500M5 7 7 5" stroke="#5b57d1" stroke-width=".5"/></svg></div>
<div class="sq" style="left:41.500px;top:142.400px"><svg width="8" height="8" viewBox="0 0 8 8"><rect x=".5" y=".5" width="7" height="7" rx="1.400" fill="#8a8a8a" stroke="#2c2c2c" stroke-width=".8"/><path d="M1 4 4 1M1 6.500 6.500 1M2.500 7 7 2.500M1 4 4 7M1.500 1.500 6.500 6.500M4 1 7 4" stroke="#222" stroke-width=".5"/></svg></div>
<div class="sq" style="left:65.800px;top:142.400px"><svg width="8" height="8" viewBox="0 0 8 8"><rect x=".3" y=".3" width="7.400" height="7.400" rx="1.100" fill="#2c2c2c"/></svg></div>

<div class="lbl" style="top:169.8px">Stroke width</div>
<div class="sq" style="left:17.300px;top:180.600px"><svg width="8" height="4" viewBox="0 0 8 4"><path d="M1 2H7" stroke="#9a9a9a" stroke-width=".75" stroke-linecap="round"/></svg></div>
<div class="sq on" style="left:41.500px;top:180.600px"><svg width="8" height="4" viewBox="0 0 8 4"><path d="M1.200 2H6.800" stroke="#4a47b1" stroke-width="1" stroke-linecap="round"/></svg></div>
<div class="sq" style="left:65.800px;top:180.600px"><svg width="8" height="4" viewBox="0 0 8 4"><path d="M1.400 2H6.600" stroke="#222" stroke-width="1.600" stroke-linecap="round"/></svg></div>

<div class="lbl" style="top:208.2px">Stroke style</div>
<div class="sq on" style="left:17.300px;top:218.800px"><svg width="8" height="4" viewBox="0 0 8 4"><path d="M.6 2H7.400" stroke="#4a47b1" stroke-width=".65" stroke-linecap="round"/></svg></div>
<div class="sq" style="left:41.500px;top:218.800px"><svg width="8" height="4" viewBox="0 0 8 4"><path d="M1 2H7" stroke="#333" stroke-width=".9" stroke-dasharray="1.500 .8"/></svg></div>
<div class="sq" style="left:65.800px;top:218.800px"><svg width="8" height="4" viewBox="0 0 8 4"><path d="M.8 2H7.200" stroke="#333" stroke-width=".6" stroke-dasharray=".6 .45"/></svg></div>

<div class="lbl" style="top:246.4px">Sloppiness</div>
<div class="sq" style="left:17.300px;top:257px"><svg width="8" height="5" viewBox="0 0 8 5"><path d="M1 3.200C2.500 1.400 3.500 2 4.500 2.800S6.200 3 7 2.600" fill="none" stroke="#333" stroke-width=".7" stroke-linecap="round"/></svg></div>
<div class="sq on" style="left:41.500px;top:257px"><svg width="8" height="5" viewBox="0 0 8 5"><path d="M1 3.400C2.400 1 3.200 1.400 4 3.200C4.600 4.400 5.400 2 7 2" fill="none" stroke="#4a47b1" stroke-width=".9" stroke-linecap="round"/></svg></div>
<div class="sq" style="left:65.800px;top:257px"><svg width="8" height="5" viewBox="0 0 8 5"><path d="M1.200 3.400C2.400 1.200 4.800 1 6.600 3.200" fill="none" stroke="#222" stroke-width="1.400" stroke-linecap="round"/></svg></div>

<div class="lbl" style="top:285.1px">Edges</div>
<div class="sq on" style="left:17.300px;top:295.200px"><svg width="8" height="8" viewBox="0 0 8 8"><path d="M1 7V1H7" fill="none" stroke="#4a47b1" stroke-width=".8"/><path d="M7 1.800V7H1.800" fill="none" stroke="#4a47b1" stroke-width=".6" stroke-dasharray=".8 1"/></svg></div>
<div class="sq" style="left:41.500px;top:295.200px"><svg width="8" height="8" viewBox="0 0 8 8"><path d="M1 7V3A2 2 0 0 1 3 1H7" fill="none" stroke="#333" stroke-width=".8"/><path d="M7 1.800V7H1.800" fill="none" stroke="#333" stroke-width=".6" stroke-dasharray=".8 1"/></svg></div>

<div class="lbl" style="top:323.3px">Opacity</div>
<div class="abs" style="left:18.500px;top:335.500px;width:104px;height:2.300px;border-radius:1.200px;background:linear-gradient(#3f3f3f,#8a8a8a)"></div>
<div class="abs" style="left:114.400px;top:331.400px;width:10.600px;height:10.600px;border-radius:50%;background:#fff;box-shadow:0 0 2px rgba(0,0,0,.32)"></div>
<div class="lbl" style="top:355.2px">Layers</div>

<!-- bottom-left zoom / undo -->
<div class="btn" style="left:10.200px;top:386.400px;width:79.800px;height:21.800px"></div>
<div class="abs" style="left:31.200px;top:386.800px;width:.6px;height:21px;background:#d9d9d9"></div>
<div class="abs" style="left:68.200px;top:386.800px;width:.6px;height:21px;background:#d9d9d9"></div>
<div class="abs" style="left:18.200px;top:397px;width:5.600px;height:.75px;background:#333"></div>
<div class="abs" style="left:31.500px;top:393.200px;width:37px;text-align:center;font-size:8.2px;line-height:10px;color:#2a2a2a">63%</div>
<div class="abs" style="left:76.300px;top:397px;width:6.400px;height:.75px;background:#333"></div>
<div class="abs" style="left:79.120px;top:394.150px;width:.75px;height:6.400px;background:#333"></div>
<div class="btn" style="left:95.800px;top:386.400px;width:43.800px;height:21.800px"></div>
<div class="abs" style="left:117.500px;top:386.800px;width:.6px;height:21px;background:#d9d9d9"></div>
<svg class="abs" style="left:102.600px;top:393px" width="9" height="9" viewBox="0 0 9 9"><path d="M3.400 1.600 1.400 3.600 3.400 5.600M1.600 3.600H5.600A2 2 0 0 1 5.600 7.600H4.800" fill="none" stroke="#333" stroke-width=".85" stroke-linecap="round" stroke-linejoin="round"/></svg>
<svg class="abs" style="left:124.200px;top:393px" width="9" height="9" viewBox="0 0 9 9"><path d="M5.600 1.600 7.600 3.600 5.600 5.600M7.400 3.600H3.400A2 2 0 0 0 3.400 7.600H4.200" fill="none" stroke="#333" stroke-width=".85" stroke-linecap="round" stroke-linejoin="round"/></svg>

<!-- bottom-right -->
<svg class="abs" style="left:633.400px;top:391.200px" width="11" height="12" viewBox="0 0 11 12"><path d="M5.500.6C4 1.700 2.400 2.100.8 2.200.6 6.400 1.800 9.800 5.500 11.400 9.200 9.800 10.400 6.400 10.200 2.200 8.600 2.100 7 1.700 5.500.6Z" fill="#4f4fd0"/><path d="M3.300 6 4.900 7.600 7.900 4.400" fill="none" stroke="#fff" stroke-width="1.100" stroke-linecap="round" stroke-linejoin="round"/></svg>
<div class="btn" style="left:650.500px;top:386.400px;width:21.800px;height:21.800px">
<svg width="8" height="8" viewBox="0 0 8 8"><circle cx="4" cy="4" r="3.300" fill="none" stroke="#333" stroke-width=".8"/><path d="M3 3.200A1 1 0 0 1 5 3.300C5 4 4 4 4 4.800" fill="none" stroke="#333" stroke-width=".7" stroke-linecap="round"/><circle cx="4" cy="5.900" r=".4" fill="#333"/></svg></div>
</div>
</body>
</html>
